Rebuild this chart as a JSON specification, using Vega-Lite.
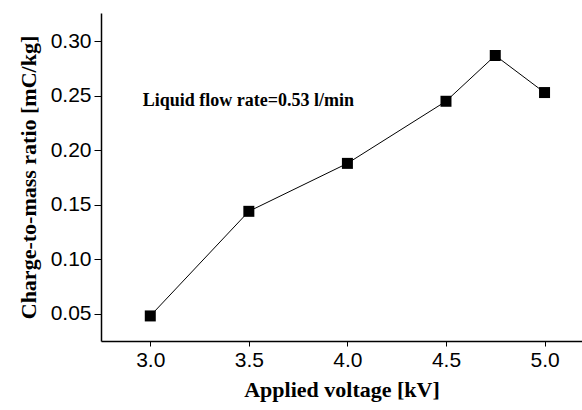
{
  "$schema": "https://vega.github.io/schema/vega-lite/v6.json",
  "width": 481,
  "height": 328,
  "autosize": {"type": "none"},
  "padding": {"left": 101, "top": 13, "right": 0, "bottom": 69},
  "background": "white",
  "config": {"view": {"stroke": null}},
  "datasets": {
    "pts": [
      {"voltage": 3.0, "ratio": 0.048},
      {"voltage": 3.5, "ratio": 0.144},
      {"voltage": 4.0, "ratio": 0.188},
      {"voltage": 4.5, "ratio": 0.245},
      {"voltage": 4.75, "ratio": 0.287},
      {"voltage": 5.0, "ratio": 0.253}
    ],
    "note": [{"voltage": 2.962, "ratio": 0.245, "label": "Liquid flow rate=0.53 l/min"}]
  },
  "encoding": {
    "x": {
      "field": "voltage", "type": "quantitative",
      "scale": {"domain": [2.75, 5.19], "nice": false, "zero": false},
      "axis": {
        "title": "Applied voltage [kV]", "values": [3.0, 3.5, 4.0, 4.5, 5.0], "format": ".1f",
        "grid": false, "domainColor": "black", "domainWidth": 1.5, "tickColor": "black", "tickSize": 5,
        "labelFont": "Liberation Sans", "labelFontSize": 21, "labelColor": "black", "labelPadding": 3,
        "titleFont": "Liberation Serif", "titleFontSize": 22, "titleFontWeight": "bold", "titleColor": "black", "titlePadding": 9
      }
    },
    "y": {
      "field": "ratio", "type": "quantitative",
      "scale": {"domain": [0.025, 0.326], "nice": false, "zero": false},
      "axis": {
        "title": "Charge-to-mass ratio [mC/kg]", "values": [0.05, 0.10, 0.15, 0.20, 0.25, 0.30], "format": ".2f",
        "grid": false, "domainColor": "black", "domainWidth": 1.5, "tickColor": "black", "tickSize": 7,
        "labelFont": "Liberation Sans", "labelFontSize": 21, "labelColor": "black", "labelPadding": 3,
        "titleFont": "Liberation Serif", "titleFontSize": 22, "titleFontWeight": "bold", "titleColor": "black", "titlePadding": 10
      }
    }
  },
  "layer": [
    {"data": {"name": "pts"}, "mark": {"type": "line", "color": "black", "strokeWidth": 1}},
    {"data": {"name": "pts"}, "mark": {"type": "square", "color": "black", "filled": true, "opacity": 1, "size": 121}},
    {
      "data": {"name": "note"},
      "mark": {"type": "text", "align": "left", "baseline": "middle", "font": "Liberation Serif", "fontSize": 18, "fontWeight": "bold", "color": "black"},
      "encoding": {"text": {"field": "label"}}
    }
  ]
}
